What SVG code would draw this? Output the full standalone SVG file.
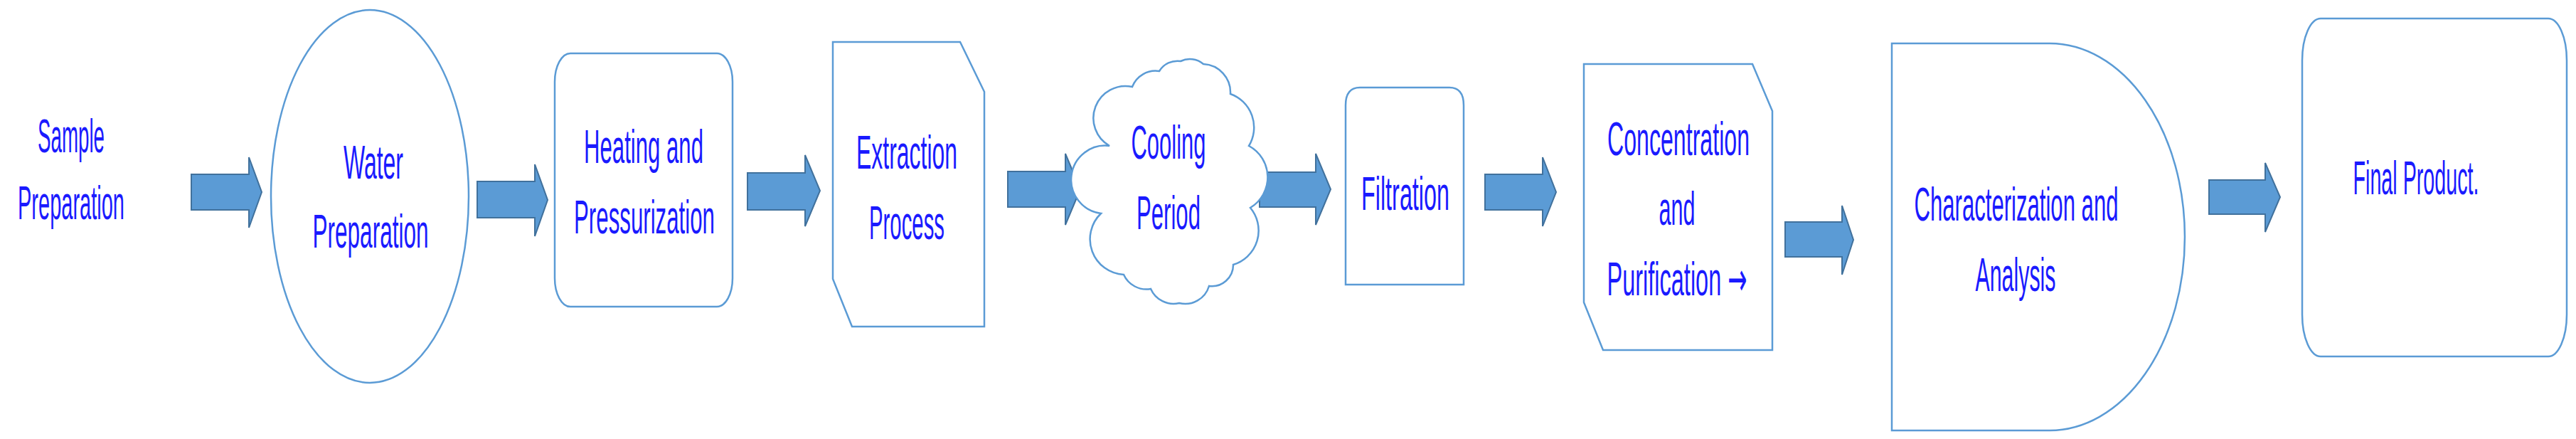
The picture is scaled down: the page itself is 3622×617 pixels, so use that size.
<svg xmlns="http://www.w3.org/2000/svg" width="3622" height="617" viewBox="0 0 3622 617">
<style>
.n{fill:#fff;stroke:#5B9BD5;stroke-width:2.5}
.a{fill:#5B9BD5;stroke:#41719C;stroke-width:2}
text{font-family:"Liberation Sans Narrow","Liberation Sans",Arial,sans-serif;font-size:66px;fill:#1a1aff;text-anchor:middle}
</style>
<rect width="3622" height="617" fill="#fff"/>
<g id="connectors">
<path class="a" d="M269,245H350V221L368,270L350,320V295H269Z"/>
<path class="a" d="M671,255H752V231L770,281L752,332V306H671Z"/>
<path class="a" d="M1051,243H1132V218L1153,268L1132,318V295H1051Z"/>
<path class="a" d="M1417,241H1498V216L1519,266L1498,316V291H1417Z"/>
<path class="a" d="M1771,242H1850V216L1871,266L1850,316V291H1771Z"/>
<path class="a" d="M2088,245H2169V221L2188,270L2169,318V295H2088Z"/>
<path class="a" d="M2510,312H2590V289L2606,337L2590,386V361H2510Z"/>
<path class="a" d="M3106,253H3185V229L3206,277L3185,326V301H3106Z"/>
</g>
<g id="n1">
<text x="100" y="214" textLength="94" lengthAdjust="spacingAndGlyphs">Sample</text>
<text x="100" y="308" textLength="150" lengthAdjust="spacingAndGlyphs">Preparation</text>
</g>
<g id="n2">
<ellipse class="n" cx="520" cy="276" rx="139" ry="262"/>
<text x="525" y="251" textLength="84" lengthAdjust="spacingAndGlyphs">Water</text>
<text x="521" y="348" textLength="163" lengthAdjust="spacingAndGlyphs">Preparation</text>
</g>
<g id="n3">
<rect class="n" x="780" y="75" width="250" height="356" rx="22" ry="40"/>
<text x="905" y="229" textLength="168" lengthAdjust="spacingAndGlyphs">Heating and</text>
<text x="906" y="328" textLength="198" lengthAdjust="spacingAndGlyphs">Pressurization</text>
</g>
<g id="n4">
<path class="n" d="M1171,59H1350L1384,129V459H1198L1171,392Z"/>
<text x="1275" y="237" textLength="142" lengthAdjust="spacingAndGlyphs">Extraction</text>
<text x="1275" y="336" textLength="106" lengthAdjust="spacingAndGlyphs">Process</text>
</g>
<g id="n5">
<path class="n" d="M1560,205A45,45 0 0 1 1592,122A35,35 0 0 1 1630,100A30,30 0 0 1 1660,86A30,30 0 0 1 1692,90A40,40 0 0 1 1730,132A50,50 0 0 1 1756,205A50,50 0 0 1 1758,292A50,50 0 0 1 1734,372A30,30 0 0 1 1700,402A35,35 0 0 1 1658,426A35,35 0 0 1 1618,406A35,35 0 0 1 1580,386A50,50 0 0 1 1548,300A35,35 0 0 1 1560,205Z"/>
<text x="1643" y="223" textLength="105" lengthAdjust="spacingAndGlyphs">Cooling</text>
<text x="1643" y="322" textLength="90" lengthAdjust="spacingAndGlyphs">Period</text>
</g>
<g id="n6">
<path class="n" d="M1892,400V148Q1892,123 1912,123H2038Q2058,123 2058,148V400Z"/>
<text x="1976" y="295" textLength="124" lengthAdjust="spacingAndGlyphs">Filtration</text>
</g>
<g id="n7">
<path class="n" d="M2227,90H2464L2492,156V492H2254L2227,425Z"/>
<text x="2360" y="218" textLength="200" lengthAdjust="spacingAndGlyphs">Concentration</text>
<text x="2358" y="316" textLength="51" lengthAdjust="spacingAndGlyphs">and</text>
<text x="2358" y="415" textLength="197" lengthAdjust="spacingAndGlyphs">Purification <tspan font-family="DejaVu Sans,sans-serif">→</tspan></text>
</g>
<g id="n8">
<path class="n" d="M2660,61H2882A190,272 0 0 1 2882,605H2660Z"/>
<text x="2835" y="310" textLength="287" lengthAdjust="spacingAndGlyphs">Characterization and</text>
<text x="2834" y="409" textLength="113" lengthAdjust="spacingAndGlyphs">Analysis</text>
</g>
<g id="n9">
<rect class="n" x="3237" y="26" width="372" height="475" rx="26" ry="59"/>
<text x="3397" y="273" textLength="177" lengthAdjust="spacingAndGlyphs">Final Product.</text>
</g>
</svg>
